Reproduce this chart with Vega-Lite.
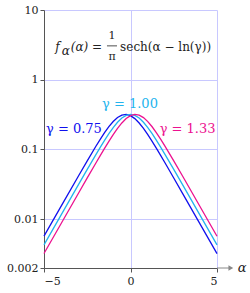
{
  "$schema": "https://vega.github.io/schema/vega-lite/v6.json",
  "width": 173,
  "height": 258,
  "autosize": "none",
  "padding": {"left": 44, "top": 10, "right": 33, "bottom": 25},
  "background": "white",
  "config": {
    "view": {"stroke": null},
    "font": "DejaVu Serif",
    "text": {"font": "DejaVu Serif"},
    "axis": {
      "labelFont": "DejaVu Serif",
      "labelFontSize": 11,
      "labelColor": "#222",
      "domainColor": "#555",
      "tickColor": "#555",
      "tickSize": 4,
      "gridColor": "#c8c8ff",
      "gridWidth": 1,
      "title": null
    }
  },
  "datasets": {
    "curves": [
      {"a": -5, "f": 0.0057189, "g": "0.75"}, {"a": -4, "f": 0.015538, "g": "0.75"}, {"a": -3, "f": 0.042075, "g": "0.75"}, {"a": -2.5, "f": 0.068851, "g": "0.75"}, {"a": -2, "f": 0.111254, "g": "0.75"}, {"a": -1.75, "f": 0.139988, "g": "0.75"}, {"a": -1.5, "f": 0.173998, "g": "0.75"}, {"a": -1.25, "f": 0.212223, "g": "0.75"}, {"a": -1, "f": 0.251706, "g": "0.75"}, {"a": -0.75, "f": 0.287077, "g": "0.75"}, {"a": -0.5, "f": 0.311268, "g": "0.75"}, {"a": -0.25, "f": 0.318084, "g": "0.75"}, {"a": 0, "f": 0.305578, "g": "0.75"}, {"a": 0.25, "f": 0.277259, "g": "0.75"}, {"a": 0.5, "f": 0.239945, "g": "0.75"}, {"a": 0.75, "f": 0.200388, "g": "0.75"}, {"a": 1, "f": 0.163224, "g": "0.75"}, {"a": 1.25, "f": 0.130759, "g": "0.75"}, {"a": 1.5, "f": 0.103634, "g": "0.75"}, {"a": 1.75, "f": 0.081585, "g": "0.75"}, {"a": 2, "f": 0.063959, "g": "0.75"}, {"a": 2.5, "f": 0.039045, "g": "0.75"}, {"a": 3, "f": 0.023738, "g": "0.75"}, {"a": 4, "f": 0.0087434, "g": "0.75"}, {"a": 5, "f": 0.003217, "g": "0.75"},
      {"a": -5, "f": 0.0042893, "g": "1.00"}, {"a": -4, "f": 0.011656, "g": "1.00"}, {"a": -3, "f": 0.031617, "g": "1.00"}, {"a": -2.5, "f": 0.051908, "g": "1.00"}, {"a": -2, "f": 0.084608, "g": "1.00"}, {"a": -1.75, "f": 0.107385, "g": "1.00"}, {"a": -1.5, "f": 0.135313, "g": "1.00"}, {"a": -1.25, "f": 0.168558, "g": "1.00"}, {"a": -1, "f": 0.206283, "g": "1.00"}, {"a": -0.75, "f": 0.245857, "g": "1.00"}, {"a": -0.5, "f": 0.282283, "g": "1.00"}, {"a": -0.25, "f": 0.308616, "g": "1.00"}, {"a": 0, "f": 0.31831, "g": "1.00"}, {"a": 0.25, "f": 0.308616, "g": "1.00"}, {"a": 0.5, "f": 0.282283, "g": "1.00"}, {"a": 0.75, "f": 0.245857, "g": "1.00"}, {"a": 1, "f": 0.206283, "g": "1.00"}, {"a": 1.25, "f": 0.168558, "g": "1.00"}, {"a": 1.5, "f": 0.135313, "g": "1.00"}, {"a": 1.75, "f": 0.107385, "g": "1.00"}, {"a": 2, "f": 0.084608, "g": "1.00"}, {"a": 2.5, "f": 0.051908, "g": "1.00"}, {"a": 3, "f": 0.031617, "g": "1.00"}, {"a": 4, "f": 0.011656, "g": "1.00"}, {"a": 5, "f": 0.0042893, "g": "1.00"},
      {"a": -5, "f": 0.0032251, "g": "1.33"}, {"a": -4, "f": 0.0087653, "g": "1.33"}, {"a": -3, "f": 0.023798, "g": "1.33"}, {"a": -2.5, "f": 0.039142, "g": "1.33"}, {"a": -2, "f": 0.064116, "g": "1.33"}, {"a": -1.75, "f": 0.081783, "g": "1.33"}, {"a": -1.5, "f": 0.10388, "g": "1.33"}, {"a": -1.25, "f": 0.131058, "g": "1.33"}, {"a": -1, "f": 0.163575, "g": "1.33"}, {"a": -0.75, "f": 0.200778, "g": "1.33"}, {"a": -0.5, "f": 0.24034, "g": "1.33"}, {"a": -0.25, "f": 0.277599, "g": "1.33"}, {"a": 0, "f": 0.305791, "g": "1.33"}, {"a": 0.25, "f": 0.318113, "g": "1.33"}, {"a": 0.5, "f": 0.311104, "g": "1.33"}, {"a": 0.75, "f": 0.286767, "g": "1.33"}, {"a": 1, "f": 0.251321, "g": "1.33"}, {"a": 1.25, "f": 0.211828, "g": "1.33"}, {"a": 1.5, "f": 0.173633, "g": "1.33"}, {"a": 1.75, "f": 0.139674, "g": "1.33"}, {"a": 2, "f": 0.110993, "g": "1.33"}, {"a": 2.5, "f": 0.068683, "g": "1.33"}, {"a": 3, "f": 0.041971, "g": "1.33"}, {"a": 4, "f": 0.015499, "g": "1.33"}, {"a": 5, "f": 0.0057046, "g": "1.33"}
    ],
    "labels": [
      {"a": -3.27, "f": 0.2, "g": "0.75", "t": "γ = 0.75"},
      {"a": -0.03, "f": 0.45, "g": "1.00", "t": "γ = 1.00"},
      {"a": 3.3, "f": 0.2, "g": "1.33", "t": "γ = 1.33"}
    ],
    "arrow": [
      {"a": 5, "f": 0.002},
      {"a": 5.8, "f": 0.002}
    ],
    "arrowhead": [{"a": 5.8, "f": 0.002}],
    "alpha": [{"a": 6.45, "f": 0.002, "t": "α"}],
    "formula": [
      {"a": -4.35, "f": 2.96, "t": "f"},
      {"a": -3.98, "f": 2.55, "t": "α"},
      {"a": -3.45, "f": 2.96, "t": "(α) ="}
    ],
    "frac": [
      {"a": -1.07, "f": 4.3, "t": "1"},
      {"a": -1.07, "f": 2.1, "t": "π"}
    ],
    "bar": [
      {"a": -1.36, "f": 3.06},
      {"a": -0.78, "f": 3.06}
    ],
    "sech": [{"a": -0.6, "f": 2.96, "t": "sech(α − ln(γ))"}]
  },
  "encoding": {
    "x": {"field": "a", "type": "quantitative", "scale": {"domain": [-5, 5], "nice": false, "zero": false}},
    "y": {"field": "f", "type": "quantitative", "scale": {"type": "log", "domain": [0.002, 10], "nice": false}}
  },
  "layer": [
    {
      "data": {"name": "curves"},
      "mark": {"type": "line", "strokeWidth": 1.3},
      "encoding": {
        "x": {"field": "a", "type": "quantitative", "axis": {"values": [-5, 0, 5], "grid": true, "labelPadding": 3}},
        "y": {"field": "f", "type": "quantitative", "axis": {"values": [0.002, 0.01, 0.1, 1, 10], "format": "~g", "grid": true}},
        "color": {"field": "g", "type": "nominal", "legend": null, "scale": {"domain": ["0.75", "1.00", "1.33"], "range": ["#1010ee", "#22b4ee", "#ec1290"]}}
      }
    },
    {
      "data": {"name": "labels"},
      "mark": {"type": "text", "fontSize": 13, "font": "DejaVu Serif"},
      "encoding": {
        "text": {"field": "t"},
        "color": {"field": "g", "type": "nominal", "legend": null}
      }
    },
    {
      "data": {"name": "arrow"},
      "mark": {"type": "line", "color": "#888", "strokeWidth": 1},
      "encoding": {}
    },
    {
      "data": {"name": "arrowhead"},
      "mark": {"type": "point", "shape": "triangle-right", "filled": true, "color": "#888", "size": 30, "opacity": 1},
      "encoding": {}
    },
    {
      "data": {"name": "alpha"},
      "mark": {"type": "text", "fontSize": 13, "fontStyle": "italic", "color": "#222", "font": "DejaVu Serif"},
      "encoding": {"text": {"field": "t"}}
    },
    {
      "data": {"name": "formula"},
      "mark": {"type": "text", "fontSize": 12, "fontStyle": "italic", "color": "#222", "align": "left", "font": "DejaVu Serif"},
      "encoding": {"text": {"field": "t"}}
    },
    {
      "data": {"name": "frac"},
      "mark": {"type": "text", "fontSize": 11, "color": "#222", "font": "DejaVu Serif"},
      "encoding": {"text": {"field": "t"}}
    },
    {
      "data": {"name": "bar"},
      "mark": {"type": "line", "color": "#222", "strokeWidth": 0.8},
      "encoding": {}
    },
    {
      "data": {"name": "sech"},
      "mark": {"type": "text", "fontSize": 12, "color": "#222", "align": "left", "font": "DejaVu Serif"},
      "encoding": {"text": {"field": "t"}}
    }
  ]
}
